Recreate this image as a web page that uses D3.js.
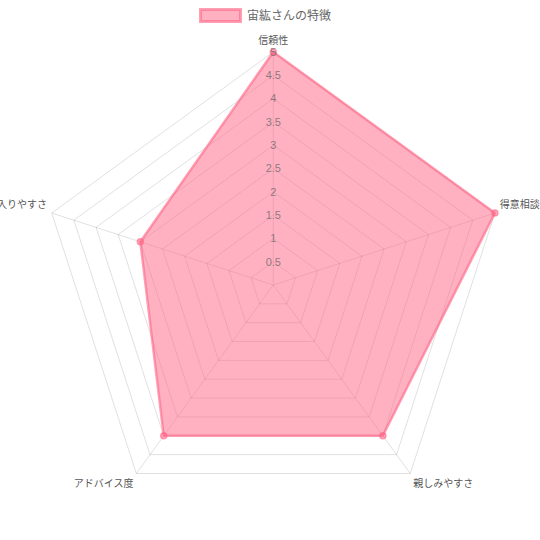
<!DOCTYPE html>
<html>
<head>
<meta charset="utf-8">
<script src="https://cdn.jsdelivr.net/npm/d3@7"></script>
<style>
  html, body { margin: 0; padding: 0; background: #fff; }
  svg { display: block; font-family: "Liberation Sans", Arial, "Noto Sans CJK JP", sans-serif; }
</style>
</head>
<body>
<svg id="chart" width="540" height="540"></svg>
<script>
const labels = ['信頼性', '得意相談', '親しみやすさ', 'アドバイス度', '入りやすさ'];
const values = [5, 5, 4, 4, 3];
const seriesName = '宙紘さんの特徴';
const tickValues = [0.5, 1, 1.5, 2, 2.5, 3, 3.5, 4, 4.5, 5];

const W = 540, H = 540;
const cx = 273.3, cy = 285;
const R = 233;
const fill = 'rgba(255,99,132,0.5)';
const stroke = 'rgba(255,99,132,0.6)';
const gridColor = 'rgba(0,0,0,0.12)';

const svg = d3.select('#chart');

const r = d3.scaleLinear().domain([0, 5]).range([0, R]);
const angle = d3.scaleLinear().domain([0, labels.length]).range([0, 2 * Math.PI]);

const pos = (i, rad) => [cx + rad * Math.sin(angle(i)), cy - rad * Math.cos(angle(i))];

const g = svg.append('g');

// rings
g.selectAll('polygon.ring')
  .data(tickValues)
  .join('polygon')
  .attr('class', 'ring')
  .attr('points', t => labels.map((_, i) => pos(i, r(t)).join(',')).join(' '))
  .attr('fill', 'none')
  .attr('stroke', gridColor)
  .attr('stroke-width', 1);

// angle lines
g.selectAll('line.spoke')
  .data(labels)
  .join('line')
  .attr('class', 'spoke')
  .attr('x1', cx).attr('y1', cy)
  .attr('x2', (d, i) => pos(i, R)[0])
  .attr('y2', (d, i) => pos(i, R)[1])
  .attr('stroke', gridColor)
  .attr('stroke-width', 1);

// dataset
const line = d3.lineRadial()
  .angle((d, i) => angle(i))
  .radius(d => r(d))
  .curve(d3.curveLinearClosed);

const ds = svg.append('g').attr('transform', `translate(${cx},${cy})`);
ds.append('path')
  .attr('d', line(values))
  .attr('fill', fill)
  .attr('stroke', stroke)
  .attr('stroke-width', 2.5)
  .attr('stroke-linejoin', 'round');

svg.append('g').selectAll('circle')
  .data(values)
  .join('circle')
  .attr('cx', (d, i) => pos(i, r(d))[0])
  .attr('cy', (d, i) => pos(i, r(d))[1])
  .attr('r', 3)
  .attr('fill', fill)
  .attr('stroke', stroke)
  .attr('stroke-width', 1.5);

// tick labels, muted so they read as sitting under the fill
g.selectAll('text.tick')
  .data(tickValues)
  .join('text')
  .attr('class', 'tick')
  .attr('x', cx)
  .attr('y', t => cy - r(t))
  .attr('dy', '0.35em')
  .attr('text-anchor', 'middle')
  .attr('font-size', 11)
  .attr('fill', '#666')
  .attr('fill-opacity', 0.75)
  .text(t => t);
svg.node().appendChild(g.selectAll('text.tick').nodes().reduce((f, n) => (f.appendChild(n), f), document.createDocumentFragment()));

// point labels
svg.append('g').selectAll('text')
  .data(labels)
  .join('text')
  .each(function (d, i) {
    const [x, y] = pos(i, R + 5);
    const deg = angle(i) * 180 / Math.PI;
    const anchor = (deg === 0 || deg === 180) ? 'middle' : (deg < 180 ? 'start' : 'end');
    const above = deg < 90 || deg > 270;
    d3.select(this)
      .attr('x', x)
      .attr('y', above ? y - 3 : y + 9)
      .attr('text-anchor', anchor);
  })
  .attr('font-size', 10)
  .attr('fill', '#555')
  .text(d => d);

// legend
const legend = svg.append('g');
legend.append('rect')
  .attr('x', 200.5).attr('y', 9.5)
  .attr('width', 40).attr('height', 12)
  .attr('fill', fill)
  .attr('stroke', stroke)
  .attr('stroke-width', 3);
legend.append('text')
  .attr('x', 247).attr('y', 16)
  .attr('dy', '0.35em')
  .attr('font-size', 12)
  .attr('fill', '#666')
  .text(seriesName);
</script>
</body>
</html>
